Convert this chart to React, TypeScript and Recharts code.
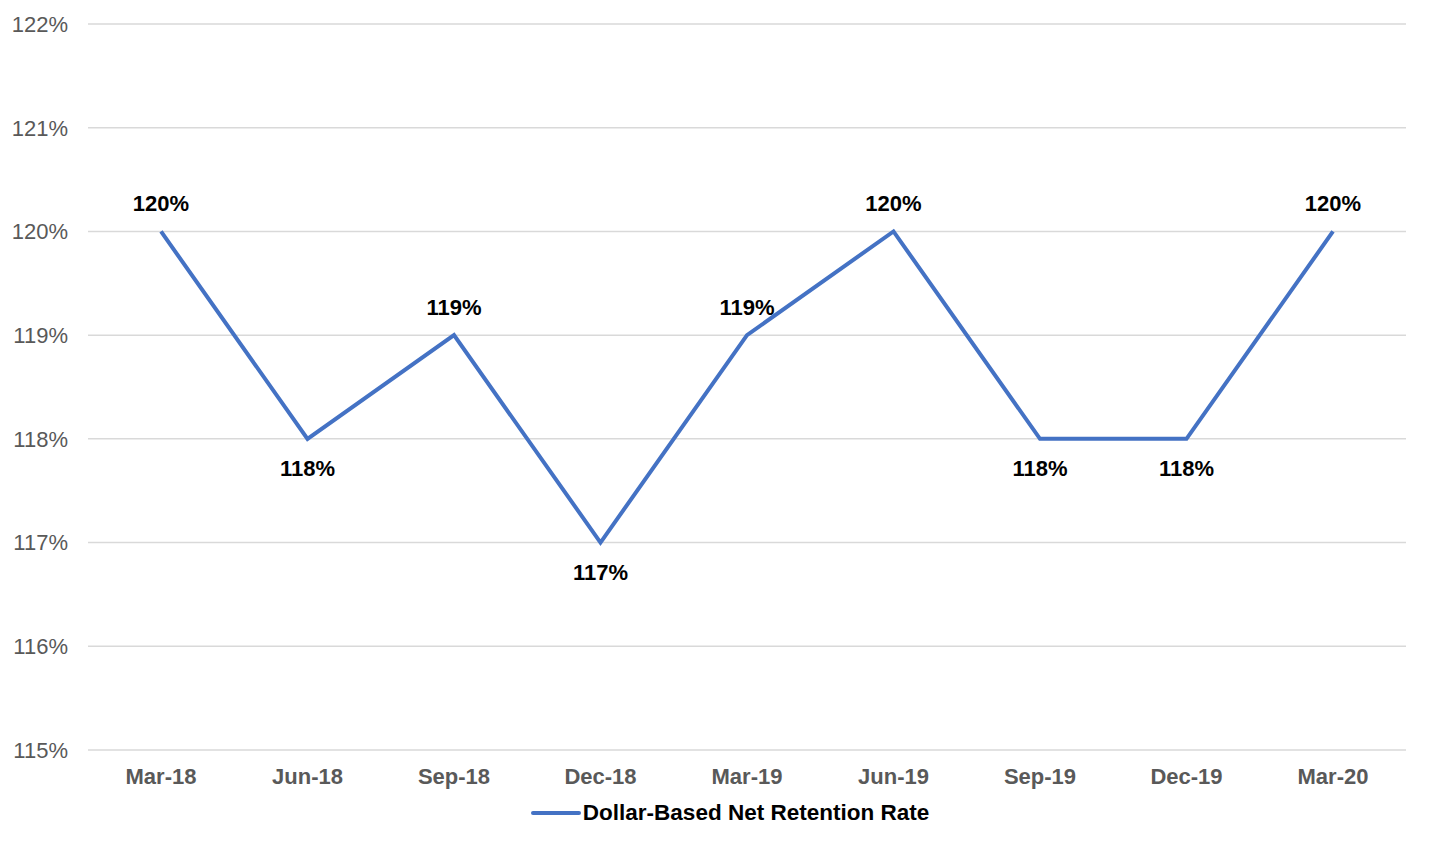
import React from "react";
import { LineChart, Line, XAxis, YAxis, CartesianGrid, Legend, LabelList } from "recharts";

const categories = ["Mar-18", "Jun-18", "Sep-18", "Dec-18", "Mar-19", "Jun-19", "Sep-19", "Dec-19", "Mar-20"];
const retention = [120, 118, 119, 117, 119, 120, 118, 118, 120];
const yTicks = [115, 116, 117, 118, 119, 120, 121, 122];
const labelAbove = [true, false, true, false, true, true, false, false, true];

const data = categories.map((c, i) => ({ name: c, value: retention[i] }));

const FONT = "'Liberation Sans', Arial, sans-serif";

const renderLabel = (props: any) => {
  const { x, y, value, index } = props;
  const above = labelAbove[index];
  return (
    <text
      x={x}
      y={above ? y - 20 : y + 37}
      textAnchor="middle"
      fontFamily={FONT}
      fontSize={22}
      fontWeight="bold"
      fill="#000000"
    >
      {`${value}%`}
    </text>
  );
};

const renderLegend = () => (
  <div style={{ display: "flex", alignItems: "center", justifyContent: "center", fontFamily: FONT }}>
    <svg width={50} height={10}>
      <line x1={2} y1={5} x2={48} y2={5} stroke="#4472C4" strokeWidth={4} strokeLinecap="round" />
    </svg>
    <span style={{ fontSize: 22.5, fontWeight: "bold", color: "#000", marginLeft: 2 }}>
      Dollar-Based Net Retention Rate
    </span>
  </div>
);

export default function App() {
  return (
    <div style={{ position: "absolute", left: 0, top: 0, background: "#fff" }}>
      <LineChart width={1456} height={846} data={data} margin={{ top: 24, right: 50, left: 0, bottom: 30 }}>
        <CartesianGrid vertical={false} stroke="#d9d9d9" strokeWidth={1.5} />
        <XAxis
          dataKey="name"
          axisLine={false}
          tickLine={false}
          tickSize={0}
          tickMargin={18}
          height={40}
          interval={0}
          padding={{ left: 73, right: 73 }}
          tick={{ fontFamily: FONT, fontSize: 22, fontWeight: "bold", fill: "#595959" }}
        />
        <YAxis
          domain={[115, 122]}
          ticks={yTicks}
          width={88}
          axisLine={false}
          tickLine={false}
          tickSize={0}
          tickMargin={20}
          tickFormatter={(v: number) => `${v}%`}
          tick={{ fontFamily: FONT, fontSize: 22, fill: "#595959" }}
        />
        <Legend
          verticalAlign="bottom"
          content={renderLegend}
          wrapperStyle={{ left: 0, width: 1460, bottom: 20 }}
        />
        <Line
          type="linear"
          dataKey="value"
          stroke="#4472C4"
          strokeWidth={4}
          dot={false}
          activeDot={false}
          isAnimationActive={false}
        >
          <LabelList dataKey="value" content={renderLabel} />
        </Line>
      </LineChart>
    </div>
  );
}
